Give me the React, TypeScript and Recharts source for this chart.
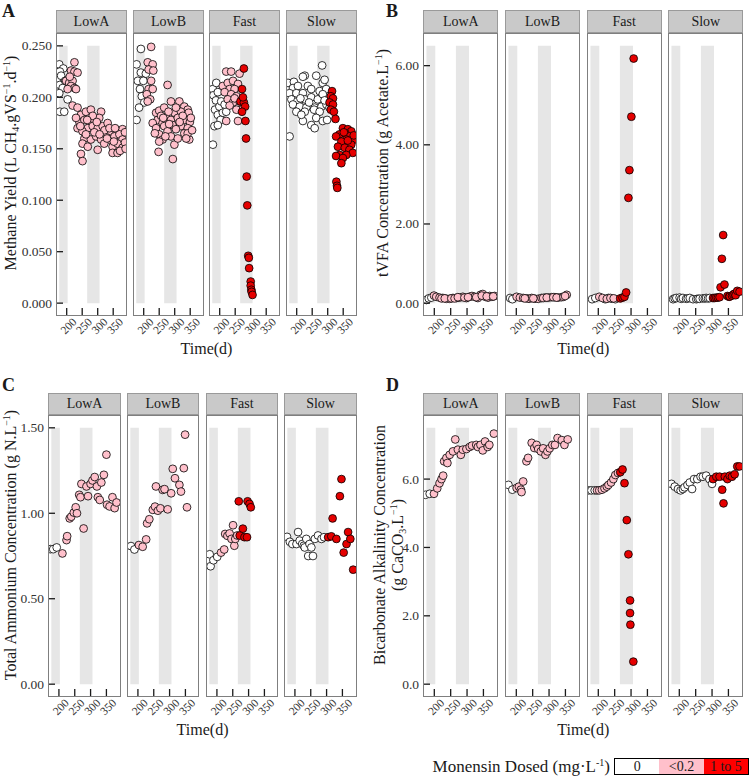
import React from "react";
import { ScatterChart, Scatter, XAxis, YAxis, ReferenceArea } from "recharts";

// dose groups: 0, <0.2, 1 to 5 mg/L
const DOSE_FILL = ["#ffffff", "#ffc0cb", "#e50000"];
const FACETS = ["LowA", "LowB", "Fast", "Slow"];
const DAY_TICKS = [200, 250, 300, 350];
const X_DOMAIN = [165.5, 394.5];
const BANDS = [[176, 203], [266, 306]];
const BAND_FILL = "#e6e6e6";

type Pt = [number, number];

// ---- A: methane yield (L CH4 / gVS / d) ----
const yieldLowA0: Pt[] = [[176,0.232],[189,0.228],[178,0.225],[192,0.215],[178,0.212],[187,0.209],[176,0.204],[203,0.198],[178,0.186],[192,0.186],[182,0.221],[195,0.216]];
const yieldLowA1: Pt[] = [[225,0.234],[214,0.226],[225,0.225],[235,0.224],[198,0.216],[208,0.214],[219,0.216],[214,0.211],[225,0.209],[230,0.208],[203,0.208],[210,0.22],[219,0.192],[235,0.19],[246,0.183],[262,0.186],[278,0.188],[311,0.186],[241,0.176],[257,0.178],[273,0.176],[289,0.178],[305,0.18],[268,0.17],[284,0.172],[300,0.17],[316,0.172],[332,0.175],[235,0.17],[251,0.167],[327,0.165],[343,0.167],[359,0.168],[380,0.169],[257,0.16],[278,0.159],[295,0.162],[311,0.159],[338,0.159],[354,0.162],[370,0.164],[380,0.159],[251,0.155],[268,0.152],[300,0.149],[321,0.155],[348,0.152],[364,0.155],[380,0.151],[348,0.146],[364,0.146],[246,0.145],[251,0.138],[230,0.18],[262,0.164],[289,0.166],[322,0.168],[338,0.17],[352,0.157],[372,0.148],[388,0.166],[388,0.156],[390,0.15],[284,0.182],[297,0.176],[244,0.172],[266,0.178],[306,0.164],[330,0.16],[356,0.17]];
const yieldLowB0: Pt[] = [[191,0.247],[177,0.232],[191,0.224],[207,0.223],[181,0.216],[199,0.216],[188,0.208],[194,0.201],[202,0.195],[185,0.19],[177,0.178]];
const yieldLowB1: Pt[] = [[224,0.249],[213,0.234],[229,0.232],[216,0.227],[231,0.226],[224,0.216],[216,0.208],[229,0.208],[210,0.203],[221,0.198],[277,0.212],[213,0.196],[240,0.185],[250,0.187],[266,0.19],[288,0.196],[315,0.196],[331,0.191],[342,0.188],[245,0.178],[272,0.181],[299,0.185],[320,0.186],[345,0.185],[229,0.175],[261,0.175],[288,0.178],[310,0.18],[331,0.178],[349,0.176],[240,0.17],[266,0.172],[293,0.173],[320,0.172],[342,0.17],[250,0.164],[277,0.167],[304,0.169],[331,0.165],[347,0.159],[261,0.159],[288,0.162],[250,0.157],[299,0.154],[342,0.165],[248,0.147],[294,0.14],[256,0.182],[280,0.186],[304,0.19],[326,0.182],[236,0.165],[270,0.162],[310,0.16],[356,0.168],[282,0.174],[352,0.18],[263,0.18],[316,0.176],[337,0.16]];
const yieldFast0: Pt[] = [[178,0.208],[180,0.202],[194,0.205],[188,0.197],[185,0.188],[199,0.191],[205,0.196],[194,0.183],[210,0.185],[203,0.178],[183,0.172],[194,0.173],[178,0.154],[189,0.214],[221,0.186],[216,0.193]];
const yieldFast1: Pt[] = [[221,0.225],[237,0.225],[264,0.223],[210,0.211],[226,0.214],[243,0.216],[259,0.213],[232,0.208],[248,0.208],[216,0.205],[237,0.203],[254,0.201],[226,0.198],[243,0.195],[264,0.196],[221,0.177],[259,0.177],[270,0.188],[254,0.188],[232,0.192],[248,0.199]];
const yieldFast2: Pt[] = [[278,0.228],[272,0.208],[267,0.196],[278,0.195],[282,0.191],[272,0.186],[283,0.177],[285,0.16],[287,0.123],[289,0.095],[292,0.046],[294,0.044],[295,0.034],[300,0.021],[300,0.017],[302,0.013],[303,0.011],[306,0.008],[275,0.2]];
const yieldSlow0: Pt[] = [[172,0.214],[191,0.215],[226,0.221],[220,0.22],[282,0.231],[188,0.209],[204,0.211],[236,0.211],[263,0.221],[284,0.214],[290,0.217],[177,0.204],[199,0.204],[220,0.204],[247,0.208],[274,0.206],[295,0.208],[183,0.198],[202,0.196],[226,0.198],[247,0.2],[268,0.198],[284,0.203],[188,0.193],[210,0.191],[231,0.19],[258,0.19],[280,0.191],[296,0.193],[199,0.186],[226,0.186],[256,0.188],[274,0.186],[220,0.177],[263,0.18],[247,0.173],[258,0.17],[284,0.177],[298,0.178],[177,0.162],[306,0.19],[212,0.199],[240,0.195],[290,0.197],[215,0.183]];
const yieldSlow2: Pt[] = [[314,0.206],[310,0.201],[317,0.199],[306,0.195],[317,0.193],[310,0.188],[320,0.186],[325,0.179],[349,0.17],[365,0.169],[376,0.167],[357,0.165],[338,0.164],[370,0.162],[327,0.162],[387,0.159],[360,0.159],[344,0.157],[376,0.154],[333,0.152],[355,0.151],[370,0.149],[381,0.146],[338,0.144],[360,0.144],[327,0.143],[349,0.141],[344,0.136],[328,0.118],[330,0.114],[331,0.112],[365,0.158],[352,0.166],[384,0.163]];

// ---- B: tVFA (g acetate / L) ----
const vfaLowA0: Pt[] = [[176,0.08],[183,0.12],[191,0.14]];
const vfaLowA1: Pt[] = [[199,0.19],[206,0.16],[216,0.14],[226,0.13],[237,0.11],[247,0.11],[257,0.13],[267,0.13],[277,0.14],[287,0.16],[298,0.13],[308,0.16],[315,0.18],[323,0.16],[333,0.13],[341,0.21],[348,0.23],[356,0.16],[364,0.14],[369,0.18],[376,0.16],[384,0.18],[222,0.12],[232,0.12],[252,0.12],[262,0.12],[272,0.15],[292,0.14],[303,0.15],[328,0.15],[345,0.19],[360,0.17],[380,0.17]];
const vfaLowB0: Pt[] = [[181,0.13],[188,0.1]];
const vfaLowB1: Pt[] = [[201,0.16],[211,0.14],[221,0.13],[232,0.12],[239,0.11],[247,0.13],[257,0.11],[267,0.11],[277,0.13],[288,0.14],[298,0.14],[308,0.15],[318,0.15],[328,0.14],[338,0.15],[354,0.21],[226,0.12],[252,0.12],[282,0.13],[293,0.14],[313,0.15],[323,0.14],[344,0.16],[349,0.18]];
const vfaFast0: Pt[] = [[181,0.1],[191,0.13],[221,0.1],[231,0.13],[242,0.11],[252,0.1]];
const vfaFast1: Pt[] = [[203,0.16],[213,0.13],[226,0.11],[237,0.13],[247,0.12]];
const vfaFast2: Pt[] = [[267,0.12],[274,0.14],[280,0.16],[285,0.27],[292,2.66],[295,3.36],[301,4.71],[308,6.18]];
const vfaSlow0: Pt[] = [[181,0.1],[186,0.12],[191,0.13],[201,0.14],[206,0.11],[211,0.13],[221,0.11],[226,0.12],[232,0.13],[242,0.1],[252,0.1],[257,0.11],[262,0.11],[272,0.12],[278,0.12],[282,0.13],[288,0.12],[293,0.13]];
const vfaSlow2: Pt[] = [[303,0.13],[308,0.13],[313,0.14],[318,0.14],[323,0.15],[326,0.4],[330,1.12],[334,1.72],[338,0.47],[347,0.18],[352,0.16],[354,0.17],[361,0.19],[365,0.22],[369,0.24],[372,0.2],[377,0.31],[384,0.29]];

// ---- C: total ammonium (g N / L) ----
const nh4LowA0: Pt[] = [[173,0.79],[182,0.79],[193,0.8]];
const nh4LowA1: Pt[] = [[211,0.765],[224,0.843],[226,0.866],[234,0.97],[239,0.98],[247,1.004],[253,1.035],[257,1.0],[264,1.108],[268,1.094],[271,1.172],[278,0.911],[287,1.157],[292,1.1],[300,1.172],[306,1.192],[313,1.212],[320,1.157],[323,1.094],[329,1.078],[334,1.18],[342,1.225],[350,1.343],[352,1.05],[360,1.04],[369,1.094],[376,1.03],[382,1.063]];
const nh4LowB0: Pt[] = [[178,0.808],[189,0.788]];
const nh4LowB1: Pt[] = [[203,0.814],[215,0.804],[226,0.847],[229,0.941],[236,0.965],[247,1.02],[254,1.039],[263,1.015],[271,1.029],[257,1.157],[278,1.137],[284,1.141],[294,1.023],[305,1.117],[310,1.26],[317,1.205],[331,1.166],[336,1.127],[345,1.264],[349,1.46],[355,1.035]];
const nh4Fast0: Pt[] = [[177,0.76],[180,0.69],[189,0.725],[201,0.745]];
const nh4Fast1: Pt[] = [[213,0.77],[223,0.788],[226,0.879],[233,0.868],[240,0.882],[246,0.85],[251,0.93],[255,0.81],[258,0.85],[264,0.87]];
const nh4Fast2: Pt[] = [[269,1.07],[272,0.87],[282,0.91],[287,0.86],[295,0.86],[297,1.07],[303,1.055],[307,1.035]];
const nh4Slow0: Pt[] = [[175,0.862],[184,0.833],[192,0.82],[205,0.82],[210,0.89],[215,0.84],[223,0.82],[228,0.81],[231,0.8],[236,0.85],[242,0.75],[246,0.82],[252,0.8],[257,0.75],[263,0.85],[273,0.87],[284,0.85],[292,0.86]];
const nh4Slow2: Pt[] = [[305,0.86],[315,0.865],[319,0.97],[331,0.85],[342,1.1],[347,1.2],[354,0.77],[363,0.82],[368,0.89],[375,0.85],[384,0.67]];

// ---- D: bicarbonate alkalinity (g CaCO3 / L) ----
const alkLowA0: Pt[] = [[173,5.54],[186,5.57]];
const alkLowA1: Pt[] = [[199,5.57],[209,5.73],[216,5.88],[222,6.0],[227,6.1],[230,6.52],[237,6.62],[240,6.47],[247,6.71],[257,6.81],[264,7.16],[272,6.86],[281,6.71],[287,6.86],[298,6.88],[308,6.94],[315,6.98],[328,7.0],[333,6.94],[341,7.0],[348,6.84],[355,7.1],[363,6.94],[368,7.0],[382,7.33]];
const alkLowB0: Pt[] = [[176,5.83],[188,5.69]];
const alkLowB1: Pt[] = [[201,5.74],[208,5.78],[214,5.69],[216,5.62],[221,5.93],[231,6.52],[236,6.62],[247,7.06],[255,6.91],[262,7.0],[267,6.88],[275,6.81],[282,6.9],[289,6.71],[295,6.81],[302,6.9],[310,7.0],[318,7.0],[326,7.2],[339,7.14],[347,7.0],[357,7.16]];
const alkFast0: Pt[] = [[170,5.67],[179,5.67],[189,5.67]];
const alkFast1: Pt[] = [[196,5.67],[203,5.67],[211,5.69],[219,5.73],[226,5.78],[231,5.83],[239,5.9],[246,6.0],[252,6.12],[260,6.18]];
const alkFast2: Pt[] = [[267,6.2],[274,6.28],[280,5.88],[287,4.8],[292,3.8],[297,2.45],[297,2.08],[298,1.74],[307,0.66]];
const alkSlow0: Pt[] = [[176,5.86],[186,5.78],[196,5.71],[204,5.67],[211,5.71],[216,5.76],[225,5.83],[232,5.9],[239,5.71],[245,6.0],[255,6.0],[265,6.07],[272,6.07],[282,6.1],[292,6.0],[300,5.86]];
const alkSlow2: Pt[] = [[303,6.0],[313,6.07],[323,6.07],[331,5.69],[335,5.29],[339,6.07],[347,6.0],[354,6.1],[361,6.07],[369,6.14],[377,6.37],[384,6.37]];

const yieldTicks = [0, 0.05, 0.1, 0.15, 0.2, 0.25];
const vfaTicks = [0, 2, 4, 6];
const nh4Ticks = [0, 0.5, 1, 1.5];
const alkTicks = [0, 2, 4, 6];

const ROW1 = { stripTop: 10, top: 33, height: 283 };
const ROW2 = { stripTop: 393, top: 415, height: 282 };

const PANELS = [
  {
    letter: "A", letterPos: [2, 1], row: ROW1, lefts: [56, 133, 209, 286], w: 71,
    limit: 0.25, ticks: yieldTicks, digits: 3,
    sets: [[yieldLowA0, yieldLowA1, []], [yieldLowB0, yieldLowB1, []], [yieldFast0, yieldFast1, yieldFast2], [yieldSlow0, [], yieldSlow2]],
  },
  {
    letter: "B", letterPos: [386, 1], row: ROW1, lefts: [423.3, 505, 586.7, 668.3], w: 75,
    limit: 6.5, ticks: vfaTicks, digits: 2,
    sets: [[vfaLowA0, vfaLowA1, []], [vfaLowB0, vfaLowB1, []], [vfaFast0, vfaFast1, vfaFast2], [vfaSlow0, [], vfaSlow2]],
  },
  {
    letter: "C", letterPos: [2, 375], row: ROW2, lefts: [48.3, 126.7, 205.7, 284.3], w: 72.5,
    limit: 1.5, ticks: nh4Ticks, digits: 2,
    sets: [[nh4LowA0, nh4LowA1, []], [nh4LowB0, nh4LowB1, []], [nh4Fast0, nh4Fast1, nh4Fast2], [nh4Slow0, [], nh4Slow2]],
  },
  {
    letter: "D", letterPos: [386, 375], row: ROW2, lefts: [423.3, 505, 586.7, 668.3], w: 75,
    limit: 7.5, ticks: alkTicks, digits: 1,
    sets: [[alkLowA0, alkLowA1, []], [alkLowB0, alkLowB1, []], [alkFast0, alkFast1, alkFast2], [alkSlow0, [], alkSlow2]],
  },
];

const INK = "#1a1a1a";

const DayTick = (p: any) => (
  <g>
    <line x1={p.x} x2={p.x} y1={p.y} y2={p.y - 8} stroke={INK} strokeWidth={1.3} />
    <text
      transform={`translate(${p.x + 5},${p.y + 1}) rotate(-45)`}
      textAnchor="end"
      dominantBaseline="hanging"
      fontSize={11.5}
      fill="#333"
    >
      {p.payload.value}
    </text>
  </g>
);

const valueTick = (digits: number) => (p: any) => (
  <g>
    <line x1={p.x} x2={p.x + 7} y1={p.y} y2={p.y} stroke={INK} strokeWidth={1.3} />
    <text x={p.x - 4} y={p.y} textAnchor="end" dominantBaseline="central" fontSize={13.5} fill="#333">
      {Number(p.payload.value).toFixed(digits)}
    </text>
  </g>
);

const dot = (fill: string) => (p: any) => (
  <circle cx={p.cx} cy={p.cy} r={3.9} fill={fill} stroke="#000" strokeWidth={0.8} />
);

function Facet({ panel, i }: { panel: any; i: number }) {
  const first = i === 0;
  const padL = first ? 48 : 16;
  const left = panel.lefts[i];
  const { top, height, stripTop } = panel.row;
  const pad = panel.limit * 0.05;
  return (
    <>
      <div style={{ position: "absolute", left: left - padL, top }}>
        <ScatterChart
          width={panel.w + padL + 8}
          height={height + 40}
          margin={{ top: 0, right: 8, bottom: 0, left: first ? 0 : padL }}
        >
          <XAxis
            type="number" dataKey="x" domain={X_DOMAIN} ticks={DAY_TICKS} interval={0}
            allowDataOverflow height={40} tickSize={0} tickMargin={0}
            tickLine={false} axisLine={false} tick={DayTick}
          />
          <YAxis
            type="number" dataKey="y" domain={[-pad, panel.limit + pad]} ticks={panel.ticks}
            allowDataOverflow width={padL} hide={!first} tickSize={0} tickMargin={0}
            tickLine={false} axisLine={false} tick={valueTick(panel.digits)}
          />
          {BANDS.map(([a, b]) => (
            <ReferenceArea key={a} x1={a} x2={b} y1={0} y2={panel.limit} fill={BAND_FILL} fillOpacity={1} stroke="none" />
          ))}
          {panel.sets[i].map((pts: Pt[], k: number) =>
            pts.length ? (
              <Scatter
                key={k}
                data={pts.map(([x, y]) => ({ x, y }))}
                shape={dot(DOSE_FILL[k])}
                isAnimationActive={false}
              />
            ) : null
          )}
        </ScatterChart>
      </div>
      <div
        style={{
          position: "absolute", left, top, width: panel.w, height,
          border: "1.6px solid #7f7f7f", boxSizing: "border-box", pointerEvents: "none",
        }}
      />
      <div
        style={{
          position: "absolute", left, top: stripTop, width: panel.w, height: top - stripTop,
          background: "#c9c9c9", border: "1px solid #9a9a9a", boxSizing: "border-box",
          display: "flex", alignItems: "center", justifyContent: "center",
          fontSize: 14, color: INK,
        }}
      >
        {FACETS[i]}
      </div>
    </>
  );
}

const rotated = (x: number, y: number): React.CSSProperties => ({
  position: "absolute", left: x, top: y, transform: "translate(-50%,-50%) rotate(-90deg)",
  whiteSpace: "nowrap", fontSize: 16, lineHeight: 1.1, color: INK, textAlign: "center",
});

const supStyle: React.CSSProperties = { fontSize: 10, verticalAlign: 6, lineHeight: 0 };
const subStyle: React.CSSProperties = { fontSize: 10, verticalAlign: -3, lineHeight: 0 };

export default function App() {
  return (
    <div
      style={{
        position: "absolute", left: 0, top: 0, width: 750, height: 780, background: "#fff",
        fontFamily: "'Liberation Serif', 'Times New Roman', serif", color: INK, overflow: "hidden",
      }}
    >
      {PANELS.map((panel) => (
        <React.Fragment key={panel.letter}>
          <div style={{ position: "absolute", left: panel.letterPos[0], top: panel.letterPos[1], fontSize: 18, fontWeight: "bold" }}>
            {panel.letter}
          </div>
          {FACETS.map((_, i) => (
            <Facet key={i} panel={panel} i={i} />
          ))}
          <div
            style={{
              position: "absolute", left: (panel.lefts[0] + panel.lefts[3] + panel.w) / 2,
              top: panel.row.top + panel.row.height + 24, transform: "translateX(-50%)",
              fontSize: 16, whiteSpace: "nowrap",
            }}
          >
            Time(d)
          </div>
        </React.Fragment>
      ))}

      <div style={rotated(11, 163)}>
        Methane Yield (L CH<span style={subStyle}>4</span>.gVS<span style={supStyle}>−1</span>.d<span style={supStyle}>−1</span>)
      </div>
      <div style={rotated(383, 163)}>
        tVFA Concentration (g Acetate.L<span style={supStyle}>−1</span>)
      </div>
      <div style={rotated(11, 545)}>
        Total Ammonium Concentration (g N.L<span style={supStyle}>−1</span>)
      </div>
      <div style={rotated(389, 545)}>
        Bicarbonate Alkalinity Concentration
        <br />
        (g CaCO<span style={subStyle}>3</span>.L<span style={supStyle}>−1</span>)
      </div>

      <div style={{ position: "absolute", left: 0, width: 610, top: 758, textAlign: "right", fontSize: 17, lineHeight: "18px" }}>
        Monensin Dosed (mg·L<span style={supStyle}>-1</span>)
      </div>
      <div
        style={{
          position: "absolute", left: 614, top: 758, width: 135, height: 17, border: "1px solid #000",
          boxSizing: "border-box", display: "flex", fontSize: 14, lineHeight: "15px",
        }}
      >
        {["0", "<0.2", "1 to 5"].map((t, k) => (
          <div key={t} style={{ flex: 1, background: k === 2 ? "#ff0000" : DOSE_FILL[k], textAlign: "center" }}>
            {t}
          </div>
        ))}
      </div>
    </div>
  );
}
